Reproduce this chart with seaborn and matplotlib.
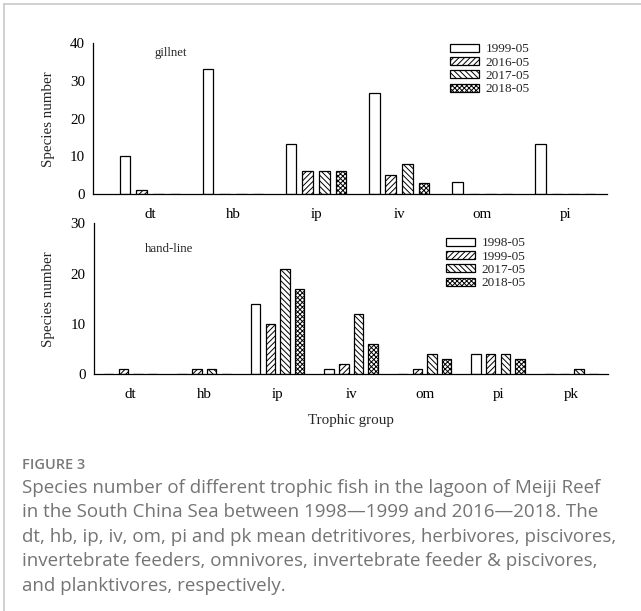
import matplotlib
matplotlib.use("Agg")
import matplotlib.pyplot as plt
import seaborn as sns
import pandas as pd
from matplotlib.patches import Patch
from matplotlib.lines import Line2D

# ---- data ----
gill_groups = ['dt', 'hb', 'ip', 'iv', 'om', 'pi']
gill_years = ['1999-05', '2016-05', '2017-05', '2018-05']
gill_1999 = [10, 33.3, 13.3, 26.7, 3.3, 13.3]
gill_2016 = [1, 0, 6, 5, 0, 0]
gill_2017 = [0, 0, 6, 8, 0, 0]
gill_2018 = [0, 0, 6, 3, 0, 0]

hand_groups = ['dt', 'hb', 'ip', 'iv', 'om', 'pi', 'pk']
hand_years = ['1998-05', '1999-05', '2017-05', '2018-05']
hand_1998 = [0, 0, 14, 1, 0, 4, 0]
hand_1999 = [1, 1, 10, 2, 1, 4, 0]
hand_2017 = [0, 1, 21, 12, 4, 4, 1]
hand_2018 = [0, 0, 17, 6, 3, 3, 0]

caption_title = "FIGURE 3"
caption_lines = [
    "Species number of different trophic fish in the lagoon of Meiji Reef",
    "in the South China Sea between 1998\u20141999 and 2016\u20142018. The",
    "dt, hb, ip, iv, om, pi and pk mean detritivores, herbivores, piscivores,",
    "invertebrate feeders, omnivores, invertebrate feeder & piscivores,",
    "and planktivores, respectively.",
]

def to_long(groups, years, series):
    rows = []
    for y, vals in zip(years, series):
        for g, v in zip(groups, vals):
            rows.append({'group': g, 'year': y, 'value': v})
    return pd.DataFrame(rows)

df_gill = to_long(gill_groups, gill_years, [gill_1999, gill_2016, gill_2017, gill_2018])
df_hand = to_long(hand_groups, hand_years, [hand_1998, hand_1999, hand_2017, hand_2018])

sns.set_style("white")
plt.rcParams['font.family'] = ['Liberation Serif', 'DejaVu Serif']
plt.rcParams['hatch.linewidth'] = 0.7

hatches = ['', '//////', '\\\\\\\\\\\\', 'xxxxxxx']

fig = plt.figure(figsize=(6.41, 6.11), dpi=100)
W, H = 641, 611

def axes_from_px(x0, x1, ytop, ybot):
    return fig.add_axes([x0 / W, 1 - ybot / H, (x1 - x0) / W, (ybot - ytop) / H])

ax1 = axes_from_px(93.3, 606.7, 43.3, 194)
ax2 = axes_from_px(94, 608.3, 223.3, 374)

def draw(ax, df, groups, years, ymax, yticks, xlim, label, label_xy, leg_anchor):
    sns.barplot(data=df, x='group', y='value', hue='year', order=groups,
                hue_order=years, palette=['white'] * len(years), saturation=1,
                edgecolor='black', linewidth=0.9, width=0.8, gap=0.36,
                legend=False, ax=ax)
    for cont, h in zip(ax.containers, hatches):
        for bar in cont:
            bar.set_hatch(h)
    ax.set_ylim(0, ymax)
    ax.set_yticks(yticks)
    ax.set_xlim(*xlim)
    for s in ['top', 'right']:
        ax.spines[s].set_visible(False)
    for s in ['left', 'bottom']:
        ax.spines[s].set_linewidth(0.9)
        ax.spines[s].set_color('black')
    ax.tick_params(axis='both', direction='in', length=4, width=0.9,
                   colors='black', labelsize=10.8)
    ax.tick_params(axis='x', pad=10)
    ax.tick_params(axis='y', pad=6)
    ax.set_ylabel('Species number', fontsize=10.8)
    ax.text(label_xy[0], label_xy[1], label, transform=ax.transAxes,
            fontsize=9.3, ha='left', va='center')
    handles = [Patch(facecolor='white', edgecolor='black', hatch=h,
                     linewidth=0.9, label=y) for y, h in zip(years, hatches)]
    ax.legend(handles=handles, loc='upper left', bbox_to_anchor=leg_anchor,
              frameon=False, fontsize=9.5, borderpad=0, borderaxespad=0,
              handlelength=2.2, handleheight=0.55, handletextpad=0.5,
              labelspacing=0.1)

draw(ax1, df_gill, gill_groups, gill_years, 40, [0, 10, 20, 30, 40],
     (-0.683, 5.5), 'gillnet', (0.12, 0.936), (0.695, 1.0))
ax1.set_xlabel('')
ax1.yaxis.set_label_coords(-0.075, 0.5)

draw(ax2, df_hand, hand_groups, hand_years, 30, [0, 10, 20, 30],
     (-0.5, 6.5), 'hand-line', (0.099, 0.83), (0.684, 0.906))
ax2.set_xlabel('Trophic group', fontsize=10.8)
ax2.yaxis.set_label_coords(-0.076, 0.5)
ax2.xaxis.set_label_coords(0.5, -0.265)

# frame lines
border = '#c8c8c8'
fig.add_artist(Line2D([4 / W, 1], [1 - 4 / H, 1 - 4 / H], color=border, lw=1.2))
fig.add_artist(Line2D([4 / W, 4 / W], [0, 1 - 4 / H], color=border, lw=1.2))

# caption
cap_font = ['Open Sans', 'DejaVu Sans']
fig.text(22 / W, 1 - 465 / H, caption_title, family=cap_font, fontsize=10.5,
         fontweight='semibold', color='#7a7a7a', va='center', ha='left')
for i, line in enumerate(caption_lines):
    y = 488 + i * 24.4
    fig.text(22 / W, 1 - y / H, line, family=cap_font, fontsize=13.5,
             color='#747474', va='center', ha='left')

fig.savefig('out.png', dpi=100)
